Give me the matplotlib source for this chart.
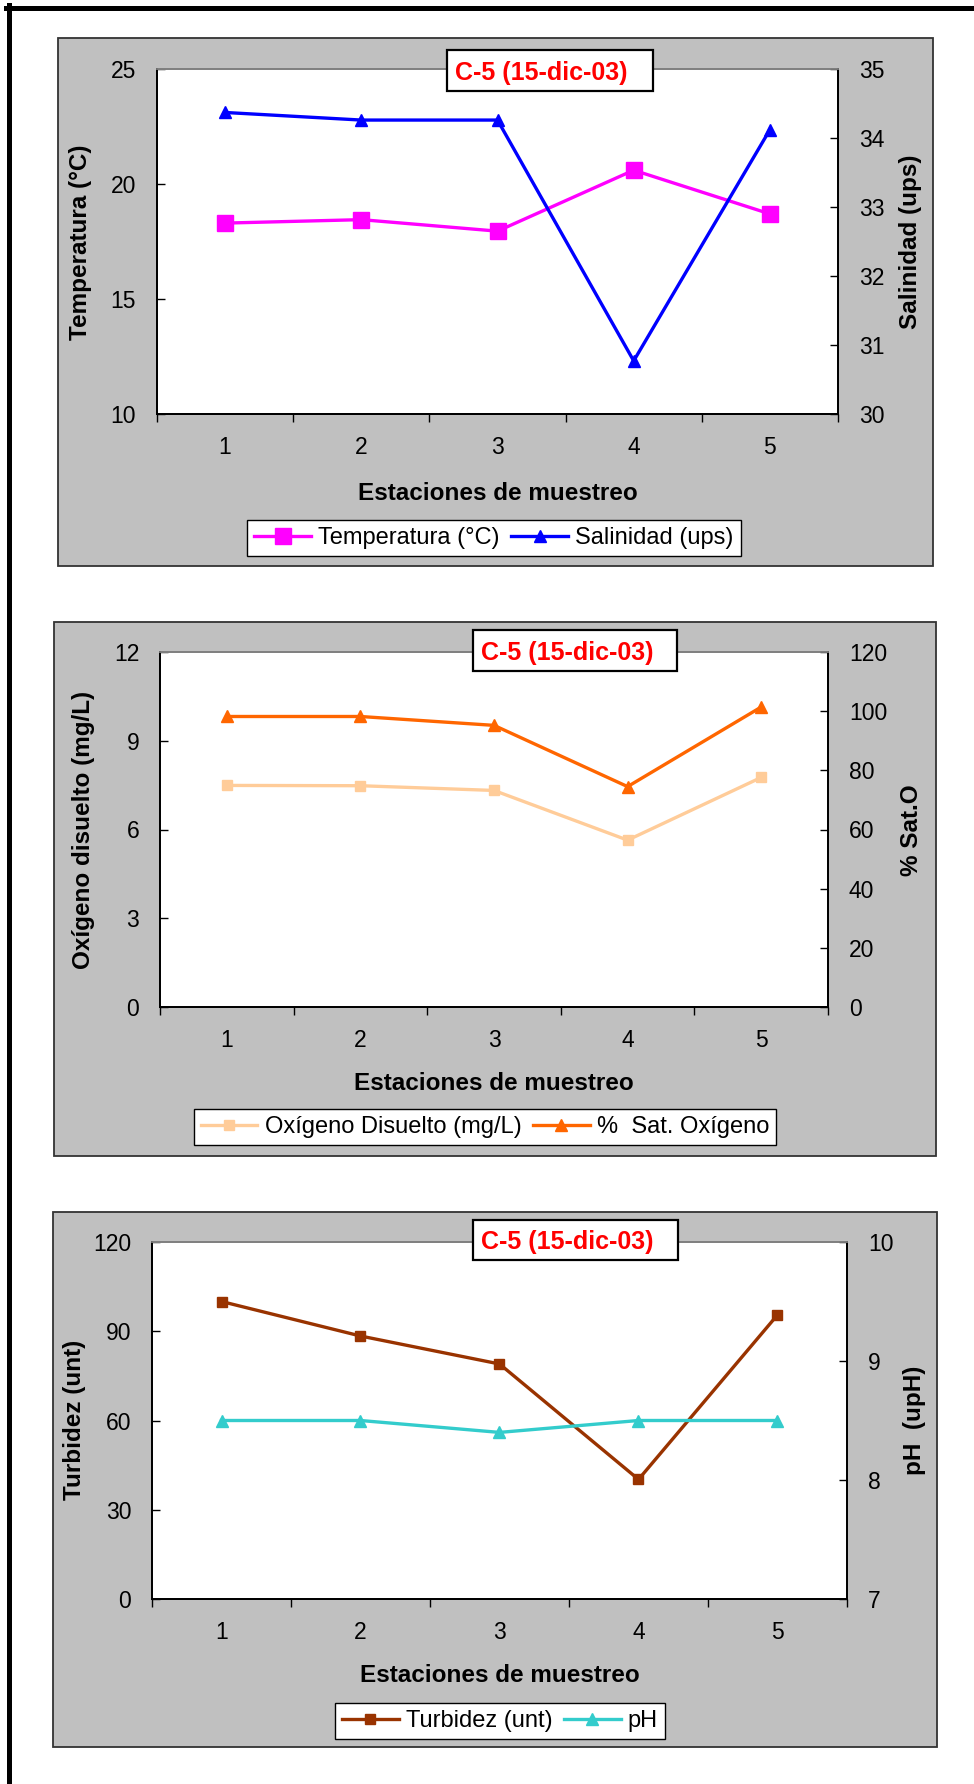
import matplotlib
matplotlib.use("Agg")
import matplotlib.pyplot as plt
from matplotlib.patches import Rectangle
from matplotlib.lines import Line2D

plt.rcParams['font.family'] = ['Liberation Sans', 'DejaVu Sans']

W, H = 974, 1784

# datos por estación de muestreo, crucero C-5
estaciones = [1, 2, 3, 4, 5]
temperatura = [18.3, 18.45, 17.95, 20.6, 18.7]
salinidad = [34.37, 34.26, 34.26, 30.77, 34.12]
oxigeno = [7.49, 7.48, 7.32, 5.64, 7.76]
sat_oxigeno = [98.2, 98.2, 95.2, 74.5, 101.4]
turbidez = [100, 88.4, 79.0, 40.2, 95.5]
ph = [8.5, 8.5, 8.4, 8.5, 8.5]

titulo = "C-5 (15-dic-03)"
xlabel = "Estaciones de muestreo"

FS_TICK = 16.5
FS_LAB = 17.5
FS_LEG = 17

fig = plt.figure(figsize=(W / 100, H / 100), dpi=100)


def fx(x):
    return x / W


def fy(y):
    return 1 - y / H


def rect_px(x0, y0, x1, y1, **kw):
    r = Rectangle((fx(x0), fy(y1)), (x1 - x0) / W, (y1 - y0) / H,
                  transform=fig.transFigure, **kw)
    fig.patches.append(r)


def grafico(bg, plot, tbox, leg_c, xl_c, yl_l, yl_r,
            y1, y2, lab1, lab2, lim1, lim2, step1, step2, st1, st2):
    # fondo gris del gráfico
    rect_px(*bg, facecolor='#c0c0c0', edgecolor='#333333', lw=1.3, zorder=-2)

    l, t, r, b = plot
    ax = fig.add_axes([fx(l), fy(b), (r - l) / W, (b - t) / H])
    ax.set_facecolor('white')
    ax2 = ax.twinx()

    h1, = ax.plot(estaciones, y1, label=lab1[1], **st1)
    h2, = ax2.plot(estaciones, y2, label=lab2[1], **st2)

    ax.set_xlim(0.5, 5.5)
    ax.set_ylim(*lim1)
    ax2.set_ylim(*lim2)
    ax.set_yticks(range(lim1[0], lim1[1] + 1, step1))
    ax2.set_yticks(range(lim2[0], lim2[1] + 1, step2))
    ax.set_xticks(estaciones)
    ax.set_xticks([e + 0.5 for e in [0] + estaciones], minor=True)

    for a in (ax, ax2):
        for s in a.spines.values():
            s.set_linewidth(1.3)
            s.set_color('black')
        a.spines['top'].set_color('#808080')
    ax.tick_params(axis='x', which='major', length=0, pad=16, labelsize=FS_TICK)
    ax.tick_params(axis='x', which='minor', length=6, width=1, direction='out')
    ax.tick_params(axis='y', direction='in', length=6, width=1, pad=15, labelsize=FS_TICK)
    ax2.tick_params(axis='y', direction='in', length=6, width=1, pad=15, labelsize=FS_TICK)

    # cuadro del título
    rect_px(*tbox, facecolor='white', edgecolor='black', lw=1.6, zorder=5)
    fig.text(fx(tbox[0] + 8), fy((tbox[1] + tbox[3]) / 2), titulo, color='red',
             fontsize=18, fontweight='bold', ha='left', va='center_baseline', zorder=6)

    fig.text(fx(xl_c[0]), fy(xl_c[1]), xlabel, fontsize=FS_LAB, fontweight='bold',
             ha='center', va='center')
    fig.text(fx(yl_l[0]), fy(yl_l[1]), lab1[0], fontsize=FS_LAB, fontweight='bold',
             ha='center', va='center', rotation=90)
    fig.text(fx(yl_r[0]), fy(yl_r[1]), lab2[0], fontsize=FS_LAB, fontweight='bold',
             ha='center', va='center', rotation=90)

    leg = fig.legend([h1, h2], [lab1[1], lab2[1]], loc='center',
                     bbox_to_anchor=(fx(leg_c[0]), fy(leg_c[1])), ncol=2,
                     frameon=True, fancybox=False, framealpha=1, edgecolor='black',
                     borderpad=0.3, handlelength=2.4, handletextpad=0.3,
                     columnspacing=0.5, fontsize=FS_LEG, borderaxespad=0)
    leg.get_frame().set_linewidth(1.0)


grafico(bg=(58, 38, 933, 566), plot=(157, 69, 838, 414), tbox=(447, 50, 653, 91),
        leg_c=(494, 538), xl_c=(498, 493), yl_l=(81, 242), yl_r=(910, 242),
        y1=temperatura, y2=salinidad,
        lab1=("Temperatura (°C)", "Temperatura (°C)"),
        lab2=("Salinidad (ups)", "Salinidad (ups)"),
        lim1=(10, 25), lim2=(30, 35), step1=5, step2=1,
        st1=dict(color='#ff00ff', lw=2.4, marker='s', ms=11.5),
        st2=dict(color='#0000ff', lw=2.4, marker='^', ms=9))

grafico(bg=(54, 622, 936, 1156), plot=(160, 652, 828, 1007), tbox=(473, 630, 677, 671),
        leg_c=(485, 1127), xl_c=(494, 1084), yl_l=(84, 830), yl_r=(912, 830),
        y1=oxigeno, y2=sat_oxigeno,
        lab1=("Oxígeno disuelto (mg/L)", "Oxígeno Disuelto (mg/L)"),
        lab2=("% Sat.O", "%  Sat. Oxígeno"),
        lim1=(0, 12), lim2=(0, 120), step1=3, step2=20,
        st1=dict(color='#ffcc99', lw=2.4, marker='s', ms=7.5),
        st2=dict(color='#ff6600', lw=2.4, marker='^', ms=8.5))

grafico(bg=(53, 1212, 937, 1747), plot=(152, 1242, 847, 1599), tbox=(473, 1220, 678, 1260),
        leg_c=(500, 1721), xl_c=(500, 1676), yl_l=(75, 1420), yl_r=(915, 1420),
        y1=turbidez, y2=ph,
        lab1=("Turbidez (unt)", "Turbidez (unt)"),
        lab2=("pH  (upH)", "pH"),
        lim1=(0, 120), lim2=(7, 10), step1=30, step2=1,
        st1=dict(color='#993300', lw=2.4, marker='s', ms=7.5),
        st2=dict(color='#33cccc', lw=2.4, marker='^', ms=8.5))

# marco negro de la página
fig.add_artist(Line2D([fx(6), fx(974)], [fy(7.5), fy(7.5)], color='black', lw=3.6,
                      transform=fig.transFigure))
fig.add_artist(Line2D([fx(8.5), fx(8.5)], [fy(5), fy(1784)], color='black', lw=3.6,
                      transform=fig.transFigure))

fig.savefig("out.png", dpi=100)
